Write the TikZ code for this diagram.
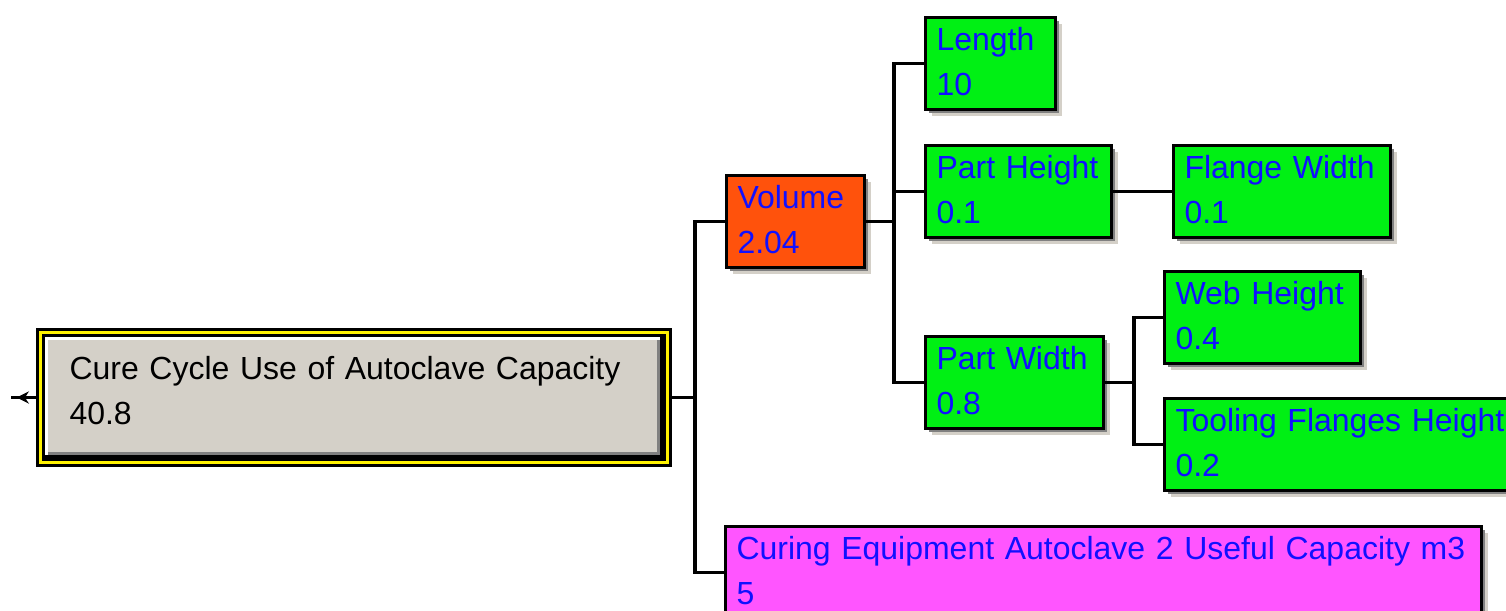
\documentclass[tikz,border=0pt]{standalone}
\usepackage{fontspec}
\setmainfont{Liberation Sans}
\usetikzlibrary{arrows.meta,shadows,decorations.markings}

\newlength\pxu
\setlength\pxu{0.02cm}

\definecolor{leafgreen}{RGB}{0,240,20}
\definecolor{volorange}{RGB}{255,82,12}
\definecolor{capmagenta}{RGB}{255,85,255}
\definecolor{rootgray}{RGB}{212,208,200}
\definecolor{shadowlight}{RGB}{212,208,200}
\definecolor{shadowdark}{RGB}{128,128,128}
\definecolor{textblue}{RGB}{16,16,255}

\begin{document}
\begin{tikzpicture}[
  x=0.02cm, y=-0.02cm,
  font=\fontsize{18.2pt}{25.8pt}\selectfont,
  >=Stealth,
  treebox/.style={
    rectangle, draw=black, line width=3.4\pxu, outer sep=0pt, anchor=north west,
    inner xsep=11\pxu, inner ysep=0pt, text height=33\pxu, text depth=59\pxu,
    align=left, text=textblue,
    general shadow={fill=shadowlight, shadow xshift=6.5\pxu, shadow yshift=-6.5\pxu},
    general shadow={fill=shadowdark, shadow xshift=3.5\pxu, shadow yshift=-3.5\pxu}
  },
  leaf/.style={treebox, fill=leafgreen},
  rootbox/.style={
    rectangle, fill=rootgray, draw=black, line width=3\pxu,
    double=yellow, double distance=3\pxu, outer sep=0pt, anchor=north west,
    inner xsep=29\pxu, inner ysep=0pt, text height=46.5\pxu, text depth=83.5\pxu,
    align=left, text=black
  },
  wire/.style={line width=3.4\pxu, black},
  outwire/.style={line width=2.6\pxu, black, postaction={decorate},
    decoration={markings,
      mark=at position -3.2pt with {\arrow{Stealth[length=7pt,width=7pt]}}}},
]

\useasboundingbox (0,0) rectangle (1506,611);

%% Root node with its frame and bevel
\node[rootbox, text width=569\pxu] (root) at (40.5,332.5)
  {Cure Cycle Use of Autoclave Capacity\\40.8};
\draw[line width=3\pxu, black]
  ([shift={(4.5,-6)}]root.south west) -| ([shift={(-6,4.5)}]root.north east);
\draw[line width=3\pxu, shadowdark]
  ([shift={(7.5,-9)}]root.south west) -| ([shift={(-9,7.5)}]root.north east);
\draw[line width=3\pxu, white]
  ([shift={(6,-7.5)}]root.south west) |- ([shift={(-7.5,6)}]root.north east);

%% First level
\node[treebox, fill=volorange, text width=116\pxu] (vol) at (726.5,175.5) {Volume\\2.04};
\node[treebox, fill=capmagenta, text width=734\pxu] (cap) at (725.5,526.5)
  {Curing Equipment Autoclave 2 Useful Capacity m3\\5};

%% Second level
\node[leaf, text width=108\pxu] (len) at (925.5,17.5)  {Length\\10};
\node[leaf, text width=164\pxu] (ph)  at (925.5,145.5) {Part Height\\0.1};
\node[leaf, text width=156\pxu] (pw)  at (925.5,336.5) {Part Width\\0.8};

%% Third level
\node[leaf, text width=195\pxu] (fw)  at (1173.5,145.5) {Flange Width\\0.1};
\node[leaf, text width=174\pxu] (wh)  at (1164.5,271.5) {Web Height\\0.4};
\node[leaf, text width=353\pxu] (tfh) at (1164.5,398.5) {Tooling Flanges Height\\0.2};

\coordinate (rootout) at (11,397.5);

%% Connectors
\draw[outwire] ([xshift=-4.5\pxu]root.west) -- (rootout);
\draw[wire] ([xshift=4.5\pxu]root.east) -- ++(23,0) |- (vol.west);
\draw[wire] ([xshift=4.5\pxu]root.east) -- ++(23,0) |- (cap.west);
\draw[wire] (vol.east) -- ++(29.5,0) |- (len.west);
\draw[wire] (vol.east) -- ++(29.5,0) |- (ph.west);
\draw[wire] (vol.east) -- ++(29.5,0) |- (pw.west);
\draw[wire] (ph.east) -- (fw.west);
\draw[wire] (pw.east) -- ++(30.5,0) |- (wh.west);
\draw[wire] (pw.east) -- ++(30.5,0) |- (tfh.west);

\end{tikzpicture}
\end{document}
